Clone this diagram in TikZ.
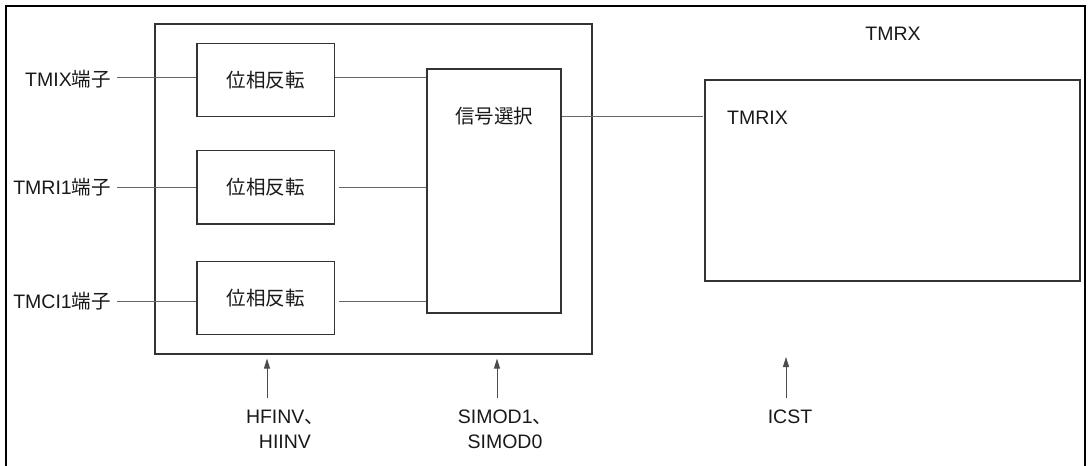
\documentclass[tikz,border=0pt]{standalone}
\usepackage{fontspec}
\setmainfont{Liberation Sans}
\newfontfamily\cjk{Noto Sans CJK JP}
\usetikzlibrary{arrows.meta}
\begin{document}
\begin{tikzpicture}[x=1pt,y=-1pt,
  every node/.style={font=\fontsize{19.5}{25}\selectfont, inner sep=0pt, text=black!90},
  blk/.style={draw=black!80, line width=1.1pt, rectangle},
  conn/.style={draw=black!60, line width=1pt},
  arr/.style={draw=black!70, line width=1pt, -{Triangle[length=10pt,width=6pt]}},
  frm/.style={draw=black, line width=2.2pt}
]
\useasboundingbox (0,0) rectangle (1088,466);
% outer frame (open at the bottom)
\draw[frm] (6,470) -- (6,6) -- (1085,6) -- (1085,470);

% blocks
\node[blk, minimum width=437pt, minimum height=330pt] (inner) at (373.5,189) {};
\node[blk, minimum width=137.5pt, minimum height=73.4pt] (p1) at (265.75,80) {};
\node[blk, minimum width=137.5pt, minimum height=73.4pt] (p2) at (265.75,187.3) {};
\node[blk, minimum width=137.5pt, minimum height=73pt] (p3) at (265.75,297.8) {};
\node[blk, minimum width=134pt, minimum height=244pt] (s) at (494,191) {};
\node[blk, minimum width=375pt, minimum height=201pt] (t) at (892.5,180.5) {};

% block texts
\node (p1t) at (p1) {\cjk 位相反転};
\node (p2t) at (p2) {\cjk 位相反転};
\node (p3t) at (p3) {\cjk 位相反転};
\node (st) at (494,116) {\cjk 信号選択};
\node[anchor=west] (tt) at (727,118) {TMRIX};
\node (tmrx) at (893,34) {TMRX};

% input labels
\node[anchor=east] (l1) at (111,79) {TMIX{\cjk 端子}};
\node[anchor=east] (l2) at (111,187) {TMRI1{\cjk 端子}};
\node[anchor=east] (l3) at (111,301) {TMCI1{\cjk 端子}};

% input connectors
\draw[conn] ([xshift=6pt,yshift=2pt]l1.east) coordinate (c1) -- (c1 -| p1.west);
\draw[conn] ([xshift=6pt]l2.east) coordinate (c2) -- (c2 -| p2.west);
\draw[conn] ([xshift=6pt]l3.east) coordinate (c3) -- (c3 -| p3.west);

% phase -> selector
\draw[conn] (c1 -| p1.east) -- (c1 -| s.west);
\draw[conn] ([xshift=4pt]c2 -| p2.east) -- (c2 -| s.west);
\draw[conn] ([xshift=4pt]c3 -| p3.east) -- (c3 -| s.west);

% selector -> TMRX
\draw[conn] (st -| s.east) -- ([xshift=-1pt]st -| t.west);

% bottom labels and arrows
\node[anchor=north, align=center] (hf) at (285,410) {HFINV{\cjk 、}\\HIINV};
\node[anchor=north, align=center] (sm) at (505,410) {SIMOD1{\cjk 、}\\SIMOD0};
\node[anchor=north] (ic) at (790,410) {ICST};

\coordinate (a1) at (267,398);
\coordinate (a2) at (497,398);
\coordinate (a3) at (786,398);
\coordinate (a3t) at (786,357);
\draw[arr, shorten >=4pt] (a1) -- (a1 |- inner.south);
\draw[arr, shorten >=4pt] (a2) -- (a2 |- inner.south);
\draw[arr] (a3) -- (a3t);
\end{tikzpicture}
\end{document}
